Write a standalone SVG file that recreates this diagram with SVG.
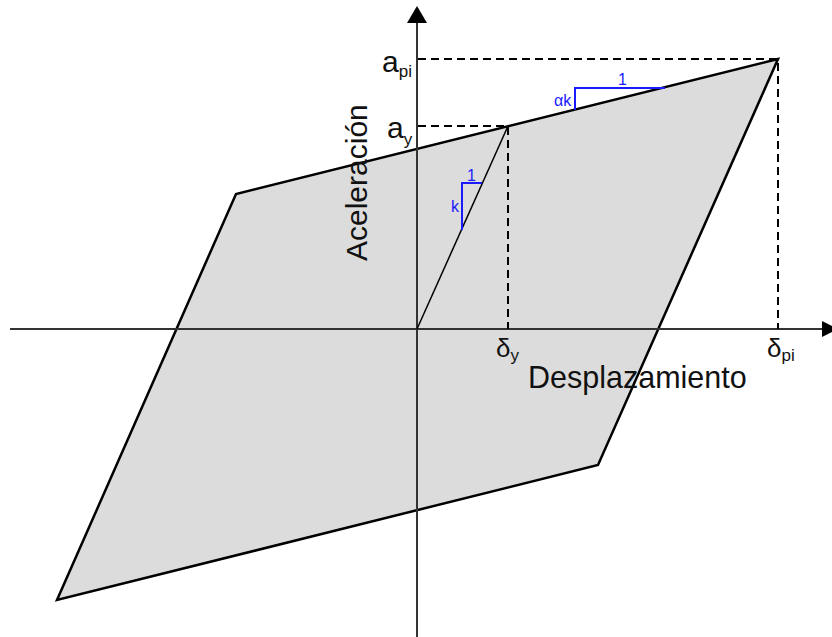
<svg xmlns="http://www.w3.org/2000/svg" width="832" height="637" viewBox="0 0 832 637">
<style>
.axis{stroke:#333;stroke-width:2;fill:none}
.dash{stroke:#000;stroke-width:2;stroke-dasharray:8 5;fill:none}
.lbl{font-family:"Liberation Sans",Arial,sans-serif;fill:#111}
.blue{stroke:#1a1aff;stroke-width:2;fill:none}
.bl{font-family:"Liberation Sans",Arial,sans-serif;fill:#1a1aff;font-size:16px}
</style>
<rect width="832" height="637" fill="#fff"/>
<g id="loop">
<polygon points="778,59 236,194 57,600 598,465" fill="#dcdcdc" stroke="#000" stroke-width="2.5" stroke-linejoin="miter"/>
</g>
<g id="axes">
<line class="axis" x1="10" y1="329" x2="824" y2="329"/>
<polygon points="822,321 838,329 822,337" fill="#000"/>
<line class="axis" x1="417" y1="637" x2="417" y2="20"/>
<polygon points="407,23 417,6 427,23" fill="#000"/>
</g>
<g id="connectors">
<line x1="417" y1="329" x2="508" y2="126" stroke="#000" stroke-width="1.5"/>
<path class="dash" d="M418,126 H508 V329"/>
<path class="dash" d="M418,59 H778 V329"/>
</g>
<g id="slopes">
<path class="blue" d="M575,110 V88 H665"/>
<text class="bl" x="554" y="106">αk</text>
<text class="bl" x="618" y="85">1</text>
<path class="blue" d="M462,230 V183 H482"/>
<text class="bl" x="451" y="212">k</text>
<text class="bl" x="467" y="181">1</text>
</g>
<g id="labels">
<text class="lbl" x="382" y="72" font-size="30">a<tspan font-size="17" dy="5">pi</tspan></text>
<text class="lbl" x="387" y="138" font-size="30">a<tspan font-size="17" dy="7">y</tspan></text>
<text class="lbl" x="496" y="357" font-size="26">δ<tspan font-size="17" dy="4">y</tspan></text>
<text class="lbl" x="767" y="357" font-size="26">δ<tspan font-size="17" dy="4">pi</tspan></text>
<text class="lbl" x="528" y="388" font-size="30.5">Desplazamiento</text>
<text class="lbl" font-size="30" transform="translate(367,261) rotate(-90)">Aceleración</text>
</g>
</svg>
